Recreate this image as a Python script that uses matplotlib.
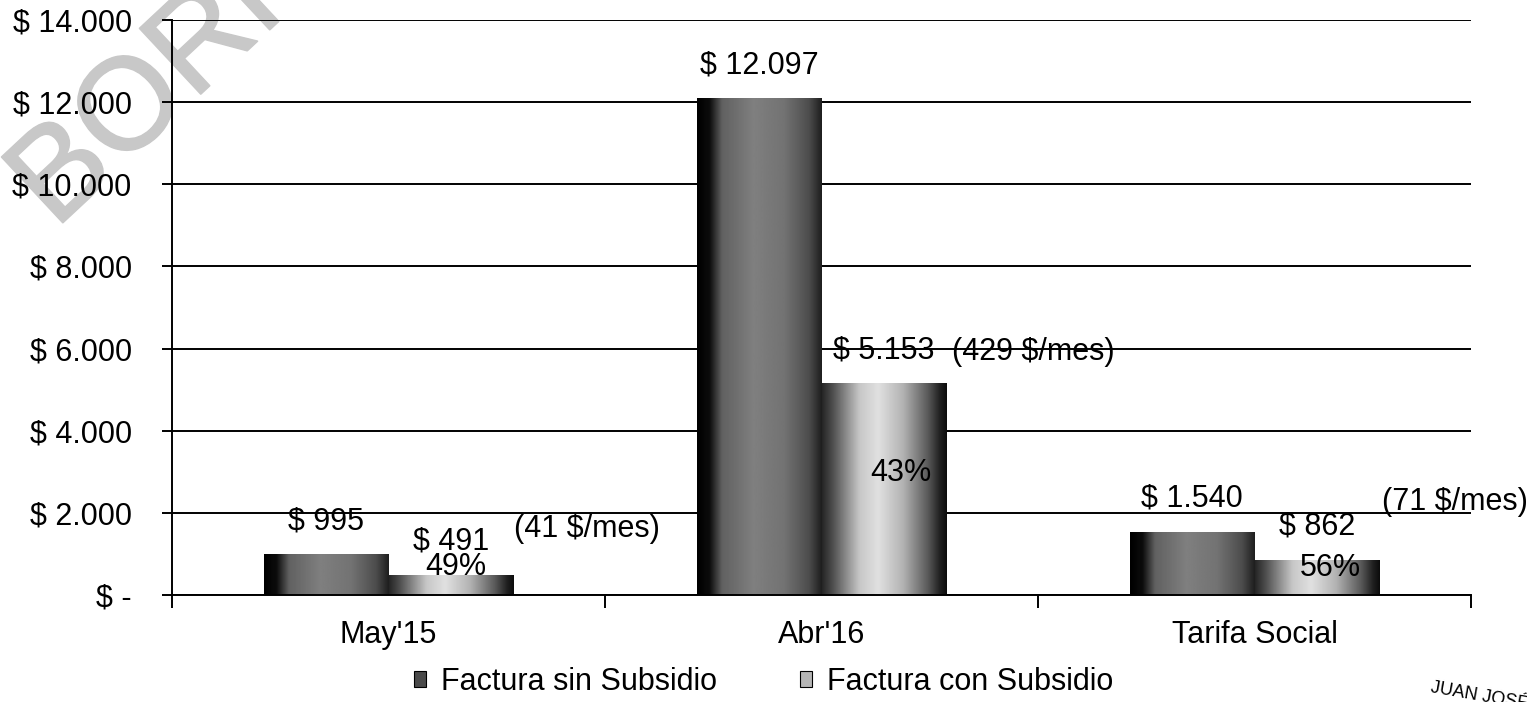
import numpy as np
import matplotlib
matplotlib.use('Agg')
import matplotlib.pyplot as plt
import matplotlib.patheffects as pe
from matplotlib.patches import Patch

plt.rcParams['font.family'] = ['Liberation Sans', 'DejaVu Sans']

# data
categories = ["May'15", "Abr'16", "Tarifa Social"]
sin_subsidio = [995, 12097, 1540]
con_subsidio = [491, 5153, 862]
pct_labels = ['49%', '43%', '56%']
mes_labels = ['(41 $/mes)', '(429 $/mes)', '(71 $/mes)']
y_ticks = [0, 2000, 4000, 6000, 8000, 10000, 12000, 14000]
series_names = ['Factura sin Subsidio', 'Factura con Subsidio']


def money(v):
    if v == 0:
        return '$ -'
    return '$ ' + '{:,.0f}'.format(v).replace(',', '.')


# horizontal shading profiles for the "cylinder" look of the bars
dark_x = [0, 0.1, 0.2, 0.45, 0.7, 0.9, 1.0]
dark_v = [0.0, 0.05, 0.38, 0.5, 0.45, 0.3, 0.12]
light_x = [0, 0.08, 0.3, 0.45, 0.65, 0.85, 0.95, 1.0]
light_v = [0.15, 0.3, 0.78, 0.88, 0.7, 0.35, 0.12, 0.05]
xs = np.linspace(0, 1, 200)
dark_grad = np.interp(xs, dark_x, dark_v)[None, :]
light_grad = np.interp(xs, light_x, light_v)[None, :]

fig = plt.figure(figsize=(15.27, 7.02), dpi=100)
ax = fig.add_axes([172 / 1527, 1 - 595 / 702, (1471 - 172) / 1527, (595 - 20) / 702])
ax.set_facecolor('none')

fs = 22
w = 0.287
x = np.arange(len(categories))
bars1 = ax.bar(x - w / 2, sin_subsidio, w, color='none', zorder=3)
bars2 = ax.bar(x + w / 2, con_subsidio, w, color='none', zorder=3)

for bars, grad in ((bars1, dark_grad), (bars2, light_grad)):
    for b in bars:
        x0, y0 = b.get_x(), b.get_y()
        im = ax.imshow(grad, extent=[x0, x0 + b.get_width(), y0, y0 + b.get_height()],
                       aspect='auto', cmap='gray', vmin=0, vmax=1, zorder=3,
                       interpolation='bilinear')
        im.set_clip_path(b)

ax.set_xlim(-0.5, len(categories) - 0.5)
ax.set_ylim(0, 14000)

# value labels above bars
for bars, vals in ((bars1, sin_subsidio), (bars2, con_subsidio)):
    for b, v in zip(bars, vals):
        ax.annotate(money(v), (b.get_x() + b.get_width() / 2, v), xytext=(0, 18),
                    textcoords='offset pixels', ha='center', va='bottom',
                    fontsize=fs, zorder=5)

# percentage labels inside the subsidised bars
pct_off = [(5, 18), (17, 16), (14, 9)]
for b, v, t, off in zip(bars2, con_subsidio, pct_labels, pct_off):
    ax.annotate(t, (b.get_x() + b.get_width() / 2, v / 2), xytext=off,
                textcoords='offset pixels', ha='center', va='center',
                fontsize=fs, zorder=5)

# monthly notes
mes_off = [(136, 46), (150, 31), (138, 58)]
for b, v, t, off in zip(bars2, con_subsidio, mes_labels, mes_off):
    ax.annotate(t, (b.get_x() + b.get_width() / 2, v), xytext=off,
                textcoords='offset pixels', ha='center', va='center',
                fontsize=fs, zorder=5)

ax.set_yticks(y_ticks)
ax.set_yticklabels([money(v) for v in y_ticks], fontsize=fs)
ax.yaxis.grid(True, color='black', linewidth=1.4, zorder=1)
ax.set_axisbelow(True)

ax.set_xticks(x)
ax.set_xticklabels(categories, fontsize=fs)
ax.set_xticks(np.arange(len(categories) + 1) - 0.5, minor=True)
ax.tick_params(axis='x', which='major', length=0, pad=18)
ax.tick_params(axis='x', which='minor', length=9, width=1.4, direction='out')
ax.tick_params(axis='y', length=7, width=1.4, pad=22)
for lbl in ax.get_yticklabels():
    lbl.set_horizontalalignment('right')

for s in ('top', 'right'):
    ax.spines[s].set_visible(False)
for s in ('left', 'bottom'):
    ax.spines[s].set_linewidth(1.4)
    ax.spines[s].set_zorder(4)

handles = [Patch(facecolor='#4a4a4a', edgecolor='black', linewidth=0.8),
           Patch(facecolor='#b5b5b5', edgecolor='black', linewidth=0.8)]
fig.legend(handles, series_names, loc='center', bbox_to_anchor=(0.5, 1 - 682 / 702),
           ncol=2, frameon=False, fontsize=fs, handlelength=0.4, handleheight=0.4,
           handletextpad=0.5, columnspacing=2.7)

# scan watermarks
fig.text(55 / 1527, 1 - 230 / 702, 'BORRADOR', rotation=43, rotation_mode='anchor',
         ha='left', va='baseline', fontsize=94, color='#c8c8c8', zorder=-1,
         path_effects=[pe.withStroke(linewidth=1.2, foreground='#c8c8c8')])
fig.text(1430 / 1527, 1 - 692 / 702, 'JUAN JOSÉ', rotation=-10, rotation_mode='anchor',
         ha='left', va='baseline', fontsize=13, color='black')

fig.savefig('out.png', dpi=100)
